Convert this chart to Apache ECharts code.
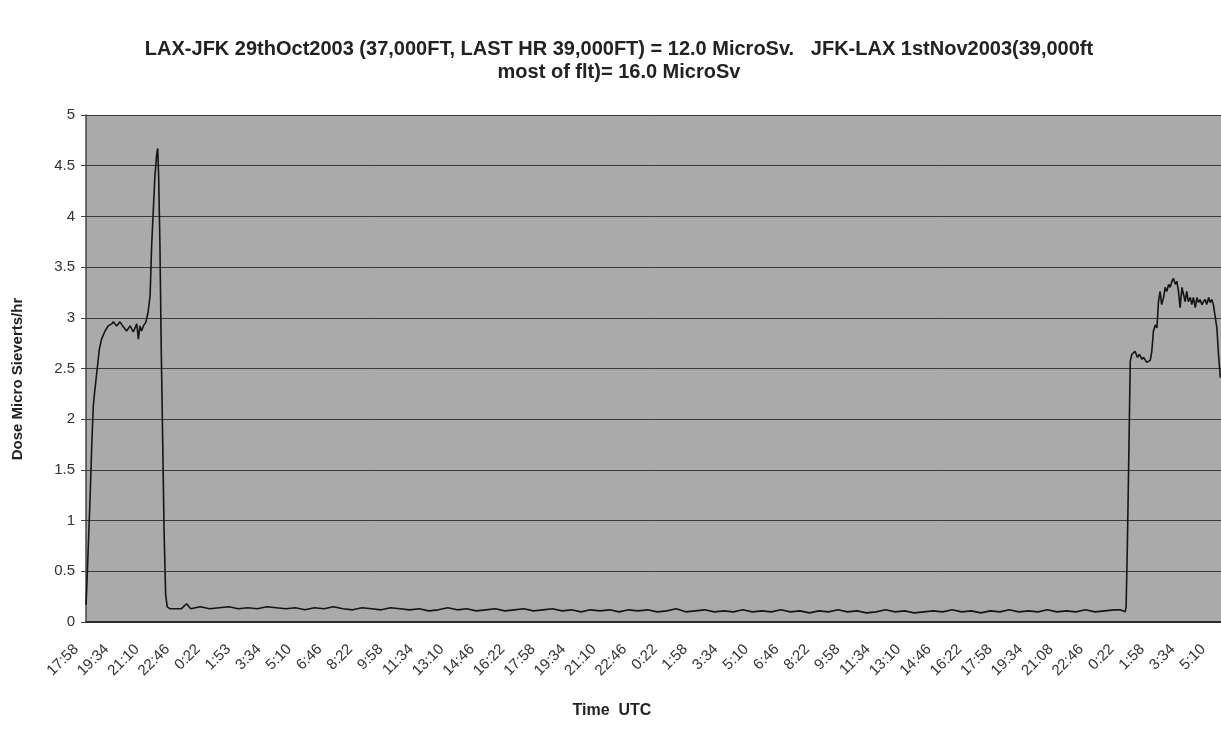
<!DOCTYPE html>
<html>
<head>
<meta charset="utf-8">
<script src="https://cdn.jsdelivr.net/npm/echarts@6/dist/echarts.min.js"></script>
<style>
  html, body { margin: 0; padding: 0; background: #ffffff; }
  #chart { width: 1221px; height: 738px; }
</style>
</head>
<body>
<div id="chart"></div>
<script>
// Tick labels (every 96 minutes, starting 17:58 UTC)
const tickLabels = ['17:58','19:34','21:10','22:46','0:22','1:53','3:34','5:10','6:46','8:22','9:58','11:34','13:10','14:46','16:22','17:58','19:34','21:10','22:46','0:22','1:58','3:34','5:10','6:46','8:22','9:58','11:34','13:10','14:46','16:22','17:58','19:34','21:08','22:46','0:22','1:58','3:34','5:10'];

// Minutes elapsed since first sample (17:58 UTC)
const timeMin = [
  0,2,7,13,18,23,28,42,49,60,70,81,86,97,107,118,128,139,149,160,165,170,175,181,189,196,202,207,212,217,223,226,229,233,237,242,246,251,256,265,
  270,300,317,330,360,390,420,450,480,510,540,570,600,630,660,690,720,750,780,810,840,870,900,930,960,990,1020,1050,1080,1110,1140,1170,1200,1230,1260,1290,1320,1350,1380,1410,1440,1470,1500,1530,1560,1590,1620,1650,1680,1710,1740,1770,1800,1830,1860,1890,1920,1950,1980,2010,2040,2070,2100,2130,2160,2190,2220,2250,2280,2310,2340,2370,2400,2430,2460,2490,2520,2550,2580,2610,2640,2670,2700,2730,2760,2790,2820,2850,2880,2910,2940,2970,3000,3030,3060,3090,3120,3150,3180,3210,3240,3259,3275,
  3278,3282,3287,3291,3296,3306,3314,3320,3328,3333,3343,3354,3359,3364,3370,3375,3380,3385,3390,3396,3401,3406,3412,3417,3422,3427,3433,3438,3443,3448,3454,3459,3464,3469,3474,3480,3485,3490,3496,3501,3506,3511,3517,3522,3527,3532,3538,3543,3548,3553,3559,3564,3569,3575
];

// Dose rate, micro Sieverts per hour
const doseRate = [
  0.17,0.30,0.73,1.23,1.73,2.13,2.29,2.69,2.79,2.87,2.92,2.94,2.96,2.92,2.96,2.91,2.87,2.92,2.86,2.94,2.79,2.92,2.87,2.92,2.96,3.06,3.22,3.72,4.05,4.39,4.62,4.67,4.39,3.72,2.72,1.73,0.90,0.27,0.15,0.13,
  0.14,0.13,0.18,0.13,0.15,0.13,0.14,0.15,0.13,0.14,0.13,0.15,0.14,0.13,0.14,0.12,0.14,0.13,0.15,0.13,0.12,0.14,0.13,0.12,0.14,0.13,0.12,0.13,0.11,0.12,0.14,0.12,0.13,0.11,0.12,0.13,0.11,0.12,0.13,0.11,0.12,0.13,0.11,0.12,0.10,0.12,0.11,0.12,0.10,0.12,0.11,0.12,0.10,0.11,0.13,0.10,0.11,0.12,0.10,0.11,0.10,0.12,0.10,0.11,0.10,0.12,0.10,0.11,0.09,0.11,0.10,0.12,0.10,0.11,0.09,0.10,0.12,0.10,0.11,0.09,0.10,0.11,0.10,0.12,0.10,0.11,0.09,0.11,0.10,0.12,0.10,0.11,0.10,0.12,0.10,0.11,0.10,0.12,0.10,0.11,0.12,0.12,0.10,
  0.15,0.77,1.75,2.57,2.64,2.67,2.61,2.64,2.59,2.61,2.56,2.58,2.67,2.87,2.93,2.90,3.16,3.26,3.13,3.20,3.30,3.26,3.33,3.30,3.36,3.39,3.33,3.36,3.26,3.10,3.30,3.23,3.16,3.26,3.16,3.20,3.13,3.20,3.10,3.20,3.15,3.18,3.13,3.16,3.18,3.13,3.20,3.15,3.18,3.13,3.13,2.90,2.64,2.41
];

const yTicks = [0, 0.5, 1, 1.5, 2, 2.5, 3, 3.5, 4, 4.5, 5];

const points = timeMin.map((t, i) => [t, doseRate[i]]);

const FONT = 'Liberation Sans, Arial, sans-serif';

const chart = echarts.init(document.getElementById('chart'), null, { renderer: 'canvas' });
chart.setOption({
  backgroundColor: '#ffffff',
  animation: false,
  title: {
    text: 'LAX-JFK 29thOct2003 (37,000FT, LAST HR 39,000FT) = 12.0 MicroSv.   JFK-LAX 1stNov2003(39,000ft\nmost of flt)= 16.0 MicroSv',
    left: 614,
    top: 33,
    textAlign: 'center',
    textStyle: {
      fontFamily: FONT,
      fontSize: 20,
      fontWeight: 'bold',
      color: '#222222',
      lineHeight: 23
    }
  },
  graphic: [
    {
      type: 'text',
      x: 612, y: 711,
      style: { text: 'Time  UTC', font: 'bold 16px ' + FONT, fill: '#222', align: 'center', verticalAlign: 'middle' }
    },
    {
      type: 'text',
      x: 18, y: 379,
      rotation: Math.PI / 2,
      style: { text: 'Dose Micro Sieverts/hr', font: 'bold 15px ' + FONT, fill: '#222', align: 'center', verticalAlign: 'middle' }
    }
  ],
  grid: {
    left: 86, top: 115, right: 0, bottom: 116,
    show: true,
    backgroundColor: '#aaaaaa',
    borderWidth: 0
  },
  xAxis: {
    type: 'value',
    min: 0,
    max: 3577,
    interval: 96,
    axisLine: { show: true, lineStyle: { color: '#2a2a2a', width: 2 } },
    axisTick: { show: false },
    splitLine: { show: false },
    axisLabel: {
      rotate: 45,
      margin: 15,
      padding: [0, 14, 0, 0],
      showMaxLabel: false,
      fontFamily: FONT,
      fontSize: 15,
      color: '#333',
      formatter: function (v) {
        const i = Math.round(v / 96);
        if (Math.abs(i * 96 - v) > 0.5) return '';
        return tickLabels[i] || '';
      }
    }
  },
  yAxis: {
    type: 'value',
    min: 0,
    max: 5,
    interval: 0.5,
    axisLine: { show: true, lineStyle: { color: '#444', width: 1.5 } },
    axisTick: { show: true, length: 5, lineStyle: { color: '#444' } },
    axisLabel: {
      margin: 11,
      fontFamily: FONT,
      fontSize: 15,
      color: '#333',
      formatter: function (v) { return yTicks.indexOf(v) >= 0 ? String(v) : ''; }
    },
    splitLine: { show: true, lineStyle: { color: '#3a3a3a', width: 1 } }
  },
  series: [{
    type: 'line',
    data: points,
    showSymbol: false,
    symbol: 'none',
    lineStyle: { color: '#151515', width: 1.6 },
    z: 5
  }]
});
</script>
</body>
</html>
